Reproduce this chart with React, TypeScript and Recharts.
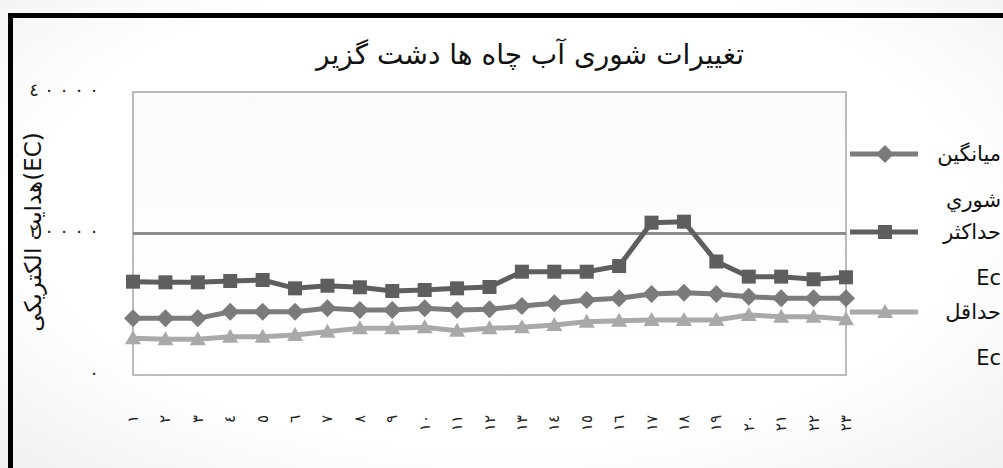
import { LineChart, Line, XAxis, YAxis, ReferenceArea, ReferenceLine } from 'recharts'

const wellLabels = ['١', '٢', '٣', '٤', '٥', '٦', '٧', '٨', '٩', '١٠', '١١', '١٢', '١٣', '١٤', '١٥', '١٦', '١٧', '١٨', '١٩', '٢٠', '٢١', '٢٢', '٢٣']
const meanEc = [8010, 8010, 8010, 8950, 8950, 8950, 9420, 9190, 9190, 9420, 9190, 9300, 9750, 10130, 10600, 10840, 11450, 11630, 11450, 11070, 10840, 10840, 10840]
const maxEc = [13190, 13100, 13100, 13290, 13430, 12250, 12620, 12400, 11870, 12010, 12250, 12440, 14600, 14600, 14600, 15400, 21530, 21670, 16040, 13900, 13900, 13530, 13810]
const minEc = [5190, 5040, 5040, 5420, 5420, 5650, 6130, 6600, 6600, 6740, 6270, 6600, 6740, 7070, 7540, 7680, 7770, 7770, 7770, 8480, 8250, 8250, 7870]
const yTicks = [0, 20000, 40000]

const title = 'تغییرات شوری آب چاه ها دشت گزیر'
const yTitle = 'هدایت الکتریکی(EC)'

const data = wellLabels.map((w, i) => ({ well: w, mean: meanEc[i], max: maxEc[i], min: minEc[i] }))

const C_MAX = '#5e5e5e'
const C_MEAN = '#7b7b7b'
const C_MIN = '#a9a9a9'
const FONT = '"DejaVu Sans", sans-serif'

const toAr = (n: number) => String(n).replace(/\d/g, (d) => '٠١٢٣٤٥٦٧٨٩'[Number(d)])

type Mark = 'square' | 'diamond' | 'triangle'

function marker(kind: Mark, cx: number, cy: number, fill: string, key?: number | string) {
  if (kind === 'square') return <rect key={key} x={cx - 7} y={cy - 7} width={14} height={14} fill={fill} />
  if (kind === 'diamond')
    return <polygon key={key} points={`${cx},${cy - 9} ${cx + 9},${cy} ${cx},${cy + 9} ${cx - 9},${cy}`} fill={fill} />
  return <polygon key={key} points={`${cx},${cy - 8} ${cx + 8},${cy + 6} ${cx - 8},${cy + 6}`} fill={fill} />
}

const dotOf = (kind: Mark, fill: string) => (p: any) => marker(kind, p.cx, p.cy, fill, p.index)

function XTick({ x, y, payload }: any) {
  const ty = y + 32
  return (
    <text x={x} y={ty} transform={`rotate(-90 ${x} ${ty})`} textAnchor="end" dominantBaseline="central"
      fontSize={15} fontFamily={FONT} fill="#222">
      {payload.value}
    </text>
  )
}

// Excel spread the digits wide; draw them one by one from the right edge
function YTick({ y, payload }: any) {
  const chars = toAr(payload.value).split('')
  const n = chars.length
  return (
    <g>
      {chars.map((c, i) => (
        <text key={i} x={94 - (n - 1 - i) * 15} y={y - 3} textAnchor="middle" dominantBaseline="central"
          fontSize={18} fontFamily={FONT} fill="#222">
          {c}
        </text>
      ))}
    </g>
  )
}

const legendItems: { name: string[]; color: string; kind: Mark; top: number }[] = [
  { name: ['میانگین', 'شوري'], color: C_MEAN, kind: 'diamond', top: 154 },
  { name: ['حداکثر', 'Ec'], color: C_MAX, kind: 'square', top: 232 },
  { name: ['حداقل', 'Ec'], color: C_MIN, kind: 'triangle', top: 312 },
]

export default function App() {
  return (
    <div style={{ position: 'absolute', left: 0, top: 0, width: 1003, height: 468, overflow: 'hidden',
      background: 'radial-gradient(ellipse at 50% 45%, #ffffff 65%, #f1f1f1 100%)' }}>
      <div style={{ position: 'absolute', left: 8, top: 13, right: -10, bottom: -10,
        borderTop: '5px solid #000', borderLeft: '5px solid #000' }} />
      <LineChart width={1003} height={468} data={data} margin={{ top: 92, right: 157, bottom: 33, left: 0 }}>
        <defs>
          <linearGradient id="plotBg" x1="0" y1="0" x2="0" y2="1">
            <stop offset="0%" stopColor="#f6f6f6" />
            <stop offset="100%" stopColor="#ffffff" />
          </linearGradient>
        </defs>
        <XAxis dataKey="well" interval={0} tickLine={false} axisLine={false} height={60} tick={<XTick />} />
        <YAxis domain={[0, 40000]} ticks={yTicks} width={133} tickLine={false} axisLine={false} tick={<YTick />} />
        <ReferenceArea y1={0} y2={40000} fill="url(#plotBg)" stroke="#a6a6a6" strokeWidth={1.5} />
        <ReferenceLine y={20000} stroke="#8c8c8c" strokeWidth={3} />
        <Line dataKey="min" stroke={C_MIN} strokeWidth={5} dot={dotOf('triangle', C_MIN)} isAnimationActive={false} />
        <Line dataKey="mean" stroke={C_MEAN} strokeWidth={5} dot={dotOf('diamond', C_MEAN)} isAnimationActive={false} />
        <Line dataKey="max" stroke={C_MAX} strokeWidth={5} dot={dotOf('square', C_MAX)} isAnimationActive={false} />
      </LineChart>
      <div style={{ position: 'absolute', left: 180, width: 700, top: 38, textAlign: 'center', direction: 'rtl',
        fontFamily: FONT, fontSize: 28, color: '#111' }}>
        {title}
      </div>
      <div style={{ position: 'absolute', left: 33, top: 232, width: 300, transform: 'translate(-50%, -50%) rotate(-90deg)',
        textAlign: 'center', direction: 'ltr', fontFamily: FONT, fontSize: 23, color: '#111', whiteSpace: 'nowrap' }}>
        {yTitle}
      </div>
      {legendItems.map((it) => (
        <div key={it.name[0]} style={{ position: 'absolute', left: 848, top: it.top - 14, width: 155 }}>
          <svg width={72} height={28} style={{ position: 'absolute', left: 0, top: 0 }}>
            <line x1={2} y1={14} x2={70} y2={14} stroke={it.color} strokeWidth={5} />
            {marker(it.kind, 37, 14, it.color)}
          </svg>
          <div style={{ position: 'absolute', left: 70, width: 83, top: 0, direction: 'rtl', textAlign: 'right',
            fontFamily: FONT, fontSize: 21, lineHeight: '28px', color: '#111' }}>
            <div>{it.name[0]}</div>
            <div style={{ marginTop: 18 }}>{it.name[1]}</div>
          </div>
        </div>
      ))}
    </div>
  )
}
